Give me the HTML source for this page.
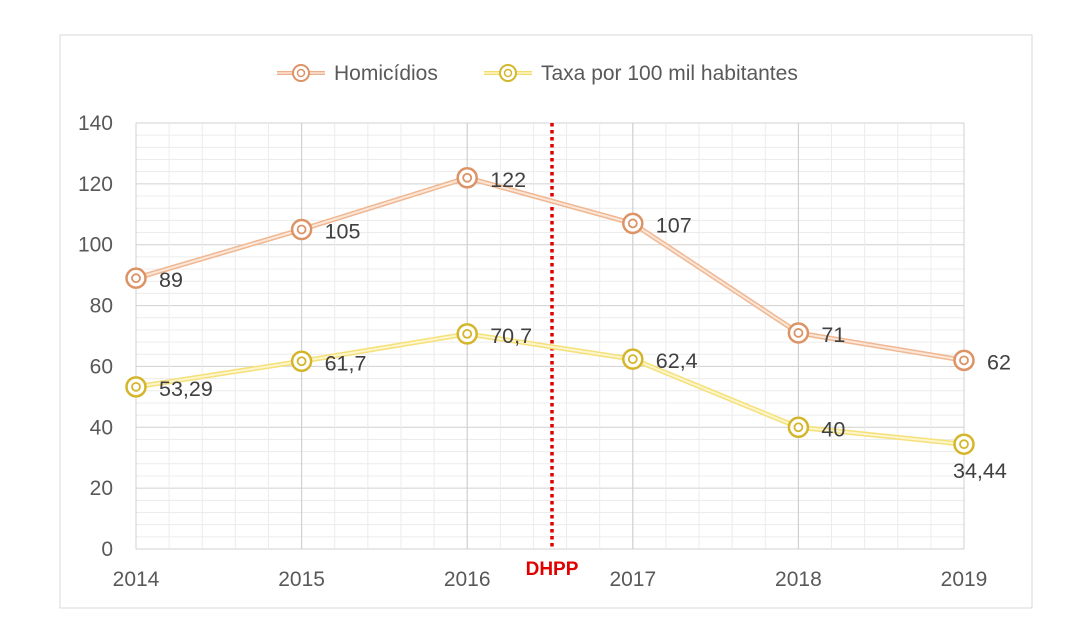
<!DOCTYPE html>
<html><head><meta charset="utf-8"><style>
body{margin:0;background:#fff;}
svg text{font-family:"Liberation Sans",sans-serif;}
</style></head><body>
<svg id="c" width="1080" height="631">
<rect x="60" y="35" width="972" height="573" fill="#fff" stroke="#d9d9d9"/>
<g id="grid"></g><g id="axes"></g><g id="series"></g>
<g>
 <g>
  <line x1="277" y1="73" x2="325" y2="73" stroke="#eeb08c" stroke-width="4"/><line x1="277" y1="73" x2="325" y2="73" stroke="#fbe3d4" stroke-width="1.5"/>
  <circle cx="301" cy="73" r="8" fill="#fff" stroke="#dc9366" stroke-width="2"/><circle cx="301" cy="73" r="3.5" fill="none" stroke="#dc9366" stroke-width="1.5"/>
  <text x="334" y="80" font-size="21" fill="#595959">Homicídios</text></g>
 <g>
  <line x1="484" y1="73" x2="532" y2="73" stroke="#f3dc6c" stroke-width="4"/><line x1="484" y1="73" x2="532" y2="73" stroke="#fcf4c8" stroke-width="1.5"/>
  <circle cx="508" cy="73" r="8" fill="#fff" stroke="#d4b62c" stroke-width="2"/><circle cx="508" cy="73" r="3.5" fill="none" stroke="#d4b62c" stroke-width="1.5"/>
  <text x="541" y="80" font-size="21" fill="#595959">Taxa por 100 mil habitantes</text></g>
</g>
</svg>
<script>
const years=["2014","2015","2016","2017","2018","2019"];
const homicidios=[89,105,122,107,71,62];
const taxa=[53.29,61.7,70.7,62.4,40,34.44];
const taxaLabels=["53,29","61,7","70,7","62,4","40","34,44"];
const yTicks=[0,20,40,60,80,100,120,140];
const NS="http://www.w3.org/2000/svg";
const x0=136,x1=964,yB=549,yT=123,yMax=140;
const X=i=>x0+(x1-x0)*i/(years.length-1);
const Y=v=>yB-(yB-yT)*v/yMax;
function mk(tag,attrs,parent,txt){const e=document.createElementNS(NS,tag);for(const k in attrs)e.setAttribute(k,attrs[k]);if(txt!=null)e.textContent=txt;parent.appendChild(e);return e;}
const grid=document.getElementById('grid'),axes=document.getElementById('axes'),ser=document.getElementById('series');
for(let v=0;v<=yMax;v+=4){const l=mk('line',{x1:x0,x2:x1,y1:Y(v),y2:Y(v),stroke:v%20===0?'#d0d0d0':'#ececec','stroke-width':1},grid);

}
for(let i=0;i<years.length-1;i++)for(let j=0;j<=5;j++){const x=X(i)+(X(i+1)-X(i))*j/5;const l=mk('line',{x1:x,x2:x,y1:yT,y2:yB,stroke:(j===0||j===5)?'#d0d0d0':'#ececec','stroke-width':1},grid);

}
yTicks.forEach(v=>{const t=mk('text',{x:113,y:Y(v)+7,'text-anchor':'end','font-size':21,fill:'#595959'},axes,String(v));

});
years.forEach((y,i)=>{const t=mk('text',{x:X(i),y:586,'text-anchor':'middle','font-size':21,fill:'#595959'},axes,y);

});
const dl=mk('line',{x1:552,x2:552,y1:yT,y2:yB,stroke:'#e00000','stroke-width':3.5,'stroke-dasharray':'3.5 3.5'},axes);


const dt=mk('text',{x:552,y:575,'text-anchor':'middle','font-size':19,'font-weight':'bold',fill:'#e00000'},axes,'DHPP');


function series(vals,labels,outer,inner,mc,name,below){
 const pts=vals.map((v,i)=>X(i)+','+Y(v)).join(' ');
 const a=mk('polyline',{points:pts,fill:'none',stroke:outer,'stroke-width':5},ser);
 
 
 mk('polyline',{points:pts,fill:'none',stroke:inner,'stroke-width':2},ser);
 vals.forEach((v,i)=>{const g=mk('g',{},ser);
  
  
  mk('circle',{cx:X(i),cy:Y(v),r:9.5,fill:'#fff',stroke:mc,'stroke-width':2.5},g);
  mk('circle',{cx:X(i),cy:Y(v),r:4,fill:'none',stroke:mc,'stroke-width':1.8},g);
  const lb=below&&below[i];
  const t=mk('text',{x:lb?X(i)-11:X(i)+23,y:lb?Y(v)+34:Y(v)+9,'font-size':21.5,fill:'#404040'},ser,labels[i]);
  
  });
}
series(homicidios,homicidios.map(String),'#efb893','#fbe6d8','#dc9366','homicidios');
series(taxa,taxaLabels,'#f5e07a','#fdf6cc','#d4b62c','taxa',[false,false,false,false,false,true]);
</script>
</body></html>
